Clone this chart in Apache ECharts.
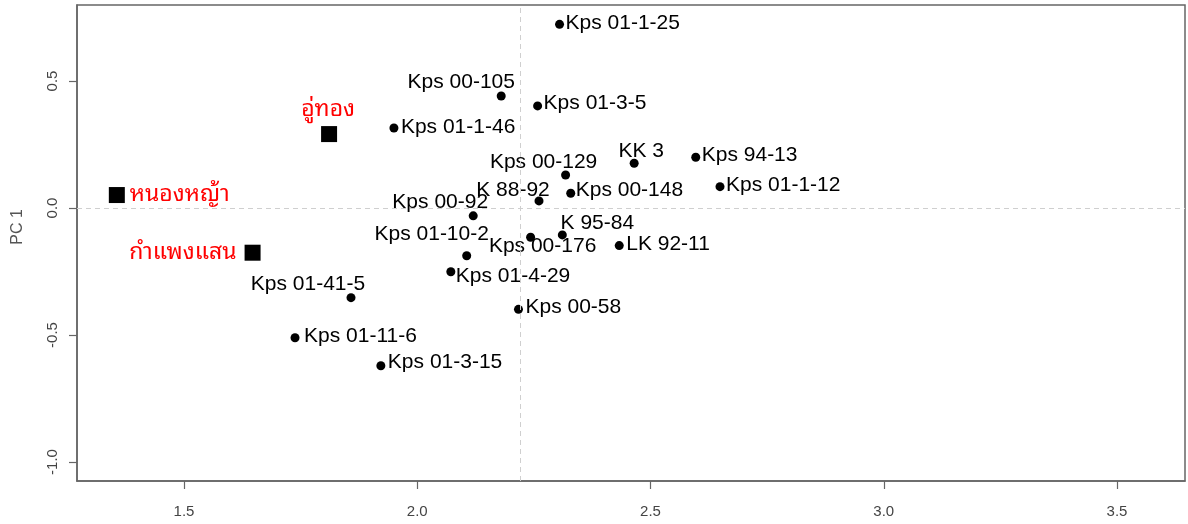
<!DOCTYPE html>
<html>
<head>
<meta charset="utf-8">
<script src="https://cdn.jsdelivr.net/npm/echarts@6/dist/echarts.min.js"></script>
<style>
html,body{margin:0;padding:0;background:#fff;}
#chart{width:1188px;height:524px;}
</style>
</head>
<body>
<div id="chart"></div>
<script>
// ---- data ----
const lineNames = ["Kps 01-1-25","Kps 00-105","Kps 01-3-5","Kps 01-1-46","Kps 00-129","KK 3","Kps 94-13","Kps 01-1-12","K 88-92","Kps 00-148","Kps 00-92","K 95-84","Kps 00-176","LK 92-11","Kps 01-10-2","Kps 01-4-29","Kps 01-41-5","Kps 00-58","Kps 01-11-6","Kps 01-3-15"];
const lineX = [2.305,2.180,2.258,1.950,2.318,2.465,2.597,2.649,2.261,2.329,2.120,2.311,2.243,2.433,2.106,2.072,1.858,2.217,1.738,1.922];
const lineY = [0.723,0.441,0.402,0.315,0.130,0.176,0.200,0.084,0.028,0.058,-0.031,-0.106,-0.115,-0.148,-0.188,-0.251,-0.353,-0.399,-0.511,-0.621];

const checkNames = ["อู่ทอง","หนองหญ้า","กำแพงแสน"];
const checkX = [1.811,1.356,1.647];
const checkY = [0.291,0.051,-0.176];

const xTicks = [1.5,2.0,2.5,3.0,3.5];
const yTicks = [-1.0,-0.5,0.0,0.5];
const meanX = 2.218;
const meanY = 0.0;

// ---- label layout (style only) ----
const lineLabelPos = [[6,-1,'left'],[-40,-14,'center'],[6,-3,'left'],[7,-1,'left'],[-22,-13,'center'],[7,-12,'center'],[6,-2,'left'],[6,-1,'left'],[-26,-11,'center'],[5,-3,'left'],[-33,-14,'center'],[35,-12,'center'],[12,9,'center'],[7,-1,'left'],[-35,-22,'center'],[5,4,'left'],[-43,-13,'center'],[7,-2,'left'],[9,-2,'left'],[7,-4,'left']];
const checkLabelPos = [[-1,-25,'center'],[13,-1,'left'],[-16,0,'right']];

const chart = echarts.init(document.getElementById('chart'));

const lineData = lineNames.map((n,i)=>({
  name:n, value:[lineX[i],lineY[i]],
  label:{show:true, formatter:n, position:'inside', align:lineLabelPos[i][2], verticalAlign:'middle',
    offset:[lineLabelPos[i][0], lineLabelPos[i][1]]}
}));
const checkData = checkNames.map((n,i)=>({
  name:n, value:[checkX[i],checkY[i]],
  label:{show:true, formatter:n, position:'inside', align:checkLabelPos[i][2], verticalAlign:'middle',
    offset:[checkLabelPos[i][0], checkLabelPos[i][1]]}
}));

const xMin = 1.5 - 107/466.5, xMax = 1.5 + 1001/466.5;
const yMin = -1.0 - 19/254, yMax = 0.5 + 76/254;

const axisCommon = {
  axisLine:{show:true, onZero:false, lineStyle:{color:'#666', width:1.5}},
  splitLine:{show:false}
};

chart.setOption({
  animation:false,
  backgroundColor:'#fff',
  grid:{left:77, right:3, top:5, bottom:43, show:true, borderColor:'#666', borderWidth:1.5, backgroundColor:'transparent'},
  xAxis:Object.assign({type:'value', min:xMin, max:xMax,
    axisTick:{show:true, inside:false, length:8, customValues:xTicks, lineStyle:{color:'#666', width:1.2}},
    axisLabel:{show:true, customValues:xTicks, margin:23, color:'#444', fontSize:15, fontFamily:'Liberation Sans, Arial, sans-serif',
      formatter:v=>v.toFixed(1)}
  }, axisCommon),
  yAxis:Object.assign({type:'value', min:yMin, max:yMax,
    axisTick:{show:true, inside:false, length:8, customValues:yTicks, lineStyle:{color:'#666', width:1.2}},
    axisLabel:{show:true, customValues:yTicks, rotate:90, margin:17, color:'#444', fontSize:15, fontFamily:'Liberation Sans, Arial, sans-serif',
      formatter:v=>v.toFixed(1)}
  }, axisCommon),
  graphic:[{type:'text', x:18, y:227, rotation:Math.PI/2,
    style:{text:'PC 1', fill:'#555', font:'16px "Liberation Sans", Arial, sans-serif', align:'center', verticalAlign:'middle'}}],
  series:[
    {type:'scatter', name:'lines', symbol:'circle', symbolSize:9, itemStyle:{color:'#000', opacity:1},
      label:{color:'#000', fontSize:21, fontFamily:'"Liberation Sans", Arial, sans-serif'},
      emphasis:{disabled:true},
      data:lineData,
      markLine:{silent:true, symbol:'none', label:{show:false},
        lineStyle:{color:'#cfcfcf', type:[5,4], width:1, opacity:1},
        data:[{xAxis:meanX},{yAxis:meanY}]},
      z:3
    },
    {type:'scatter', name:'checks', symbol:'rect', symbolSize:16, itemStyle:{color:'#000', opacity:1},
      label:{color:'#ff0000', fontSize:23, fontFamily:'"Noto Sans Thai Looped", Loma, Garuda, Tahoma, "Noto Sans Thai", "Noto Sans", "DejaVu Sans", sans-serif'},
      emphasis:{disabled:true},
      data:checkData, z:3
    }
  ]
});
</script>
</body>
</html>
